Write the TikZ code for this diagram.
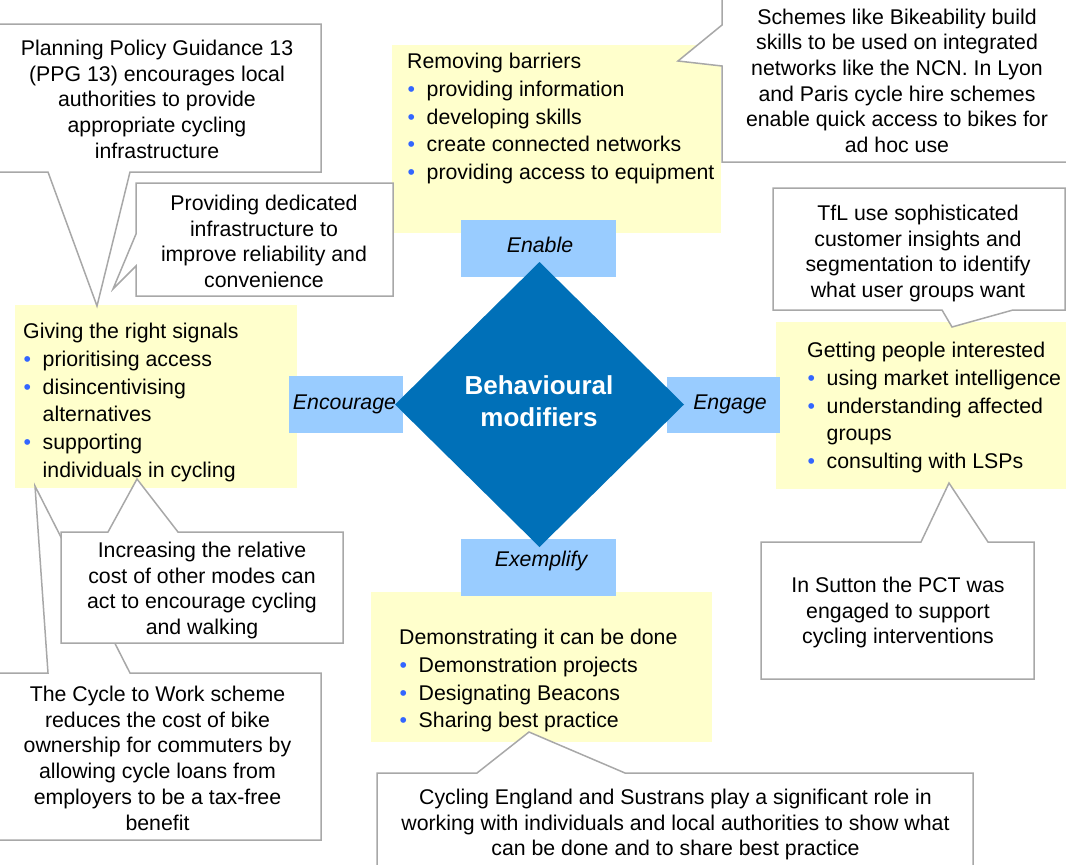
\documentclass[tikz,border=0pt]{standalone}
\usepackage{fontspec}
\setmainfont{Liberation Sans}
\usetikzlibrary{shapes.geometric}
\definecolor{yfill}{HTML}{FFFFCC}
\definecolor{lblue}{HTML}{99CCFF}
\definecolor{dblue}{HTML}{0070B8}
\definecolor{bblue}{HTML}{3366FF}
\definecolor{cgray}{HTML}{A8A8A8}
\newcommand{\bul}{\makebox[19.5pt][l]{\hspace{0.5pt}\textcolor{bblue}{\char"2022}}}
\newcommand{\ind}{\hspace*{19.5pt}}
\begin{document}
\begin{tikzpicture}[x=1pt,y=-1pt,
  ybox/.style={fill=yfill, draw=none, inner sep=0pt, outer sep=0pt, anchor=north west},
  lbox/.style={fill=lblue, draw=none, inner sep=0pt, outer sep=0pt},
  callout/.style={fill=white, draw=cgray, line width=1.5pt, line join=miter},
  ytext/.style={font=\fontsize{21.3}{27.8}\selectfont, align=left, inner sep=0pt, anchor=base west},
  ctext/.style={font=\fontsize{21.3}{25.7}\selectfont, align=center, inner sep=0pt, anchor=base},
  ltext/.style={font=\fontsize{21.3}{25}\selectfont\itshape, inner sep=0pt, anchor=base},
  coretext/.style={font=\fontsize{26}{32}\selectfont\bfseries, text=white, align=center, inner sep=0pt, anchor=base}]
\useasboundingbox (0,0) rectangle (1066,865);

% yellow boxes
\node[ybox, minimum width=329pt, minimum height=188pt] (y1) at (392,45) {};
\node[ybox, minimum width=282pt, minimum height=183pt] (y2) at (15,305) {};
\node[ybox, minimum width=295pt, minimum height=167pt] (y3) at (776,322) {};
\node[ybox, minimum width=341pt, minimum height=150pt] (y4) at (371,592) {};

% callouts
\draw[callout] (-5,24) -- (321,24) -- (321,172) -- (130,172) -- (97,306) -- (48,172) -- (-5,172) -- cycle;
\draw[callout] (136,183) -- (393,183) -- (393,296) -- (136,296) -- (136,266) -- (113,289) -- (136,234) -- cycle;
\draw[callout] (722,-5) -- (722,25) -- (678,61) -- (722,66) -- (722,162) -- (1075,162) -- (1075,-5) -- cycle;
\draw[callout] (773,188) -- (1065,188) -- (1065,310) -- (1013,310) -- (952,327) -- (942,310) -- (773,310) -- cycle;
\draw[callout] (761,542) -- (921,542) -- (949,483) -- (988,542) -- (1034,542) -- (1034,679) -- (761,679) -- cycle;
\draw[callout] (-5,673) -- (48,673) -- (35,486) -- (130,673) -- (321,673) -- (321,840) -- (-5,840) -- cycle;
\draw[callout] (61,532) -- (108,532) -- (137,479) -- (178,532) -- (343,532) -- (343,643) -- (61,643) -- cycle;
\draw[callout] (377,875) -- (377,773) -- (477,773) -- (529,732) -- (625,773) -- (973,773) -- (973,875) -- cycle;

% yellow box texts (coordinates give the baseline of the last line)
\node[ytext] (t1) at (407,179.7) {Removing barriers\\
  \bul providing information\\
  \bul developing skills\\
  \bul create connected networks\\
  \bul providing access to equipment};
\node[ytext] (t2) at (23,477.5) {Giving the right signals\\
  \bul prioritising access\\
  \bul disincentivising\\
  \ind alternatives\\
  \bul supporting\\
  \ind individuals in cycling};
\node[ytext] (t3) at (807,468.7) {Getting people interested\\
  \bul using market intelligence\\
  \bul understanding affected\\
  \ind groups\\
  \bul consulting with LSPs};
\node[ytext] (t4) at (399,727.9) {Demonstrating it can be done\\
  \bul Demonstration projects\\
  \bul Designating Beacons\\
  \bul Sharing best practice};

% callout texts
\node[ctext] (c1) at (157,158.3) {Planning Policy Guidance 13\\(PPG 13) encourages local\\authorities to provide\\appropriate cycling\\infrastructure};
\node[ctext] (c2) at (264,287.6) {Providing dedicated\\infrastructure to\\improve reliability and\\convenience};
\node[ctext] (c3) at (897,152.5) {Schemes like Bikeability build\\skills to be used on integrated\\networks like the NCN. In Lyon\\and Paris cycle hire schemes\\enable quick access to bikes for\\ad hoc use};
\node[ctext] (c4) at (918,297.6) {TfL use sophisticated\\customer insights and\\segmentation to identify\\what user groups want};
\node[ctext] (c5) at (898,643.9) {In Sutton the PCT was\\engaged to support\\cycling interventions};
\node[ctext] (c6) at (157.5,830) {The Cycle to Work scheme\\reduces the cost of bike\\ownership for commuters by\\allowing cycle loans from\\employers to be a tax-free\\benefit};
\node[ctext] (c7) at (202,634.6) {Increasing the relative\\cost of other modes can\\act to encourage cycling\\and walking};
\node[ctext] (c8) at (675.5,855.9) {Cycling England and Sustrans play a significant role in\\working with individuals and local authorities to show what\\can be done and to share best practice};

% label boxes
\node[lbox, minimum width=155pt, minimum height=57pt] (enable) at (538.5,248.5) {};
\node[lbox, minimum width=114pt, minimum height=57pt] (encourage) at (346,404.5) {};
\node[lbox, minimum width=113pt, minimum height=56pt] (engage) at (723.5,405) {};
\node[lbox, minimum width=155pt, minimum height=57pt] (exemplify) at (538.5,567.5) {};

% central diamond
\node[diamond, fill=dblue, draw=none, inner sep=0pt, outer sep=0pt, minimum width=289pt, minimum height=285pt] (core) at (539.5,404.5) {};
\node[coretext] (coret) at (539,426) {Behavioural\\modifiers};

% label texts
\node[ltext] (enablet) at (540,252.5) {Enable};
\node[ltext] (encouraget) at (344.5,409.5) {Encourage};
\node[ltext] (engaget) at (730,409.5) {Engage};
\node[ltext] (exemplifyt) at (541,566.5) {Exemplify};
\end{tikzpicture}
\end{document}
